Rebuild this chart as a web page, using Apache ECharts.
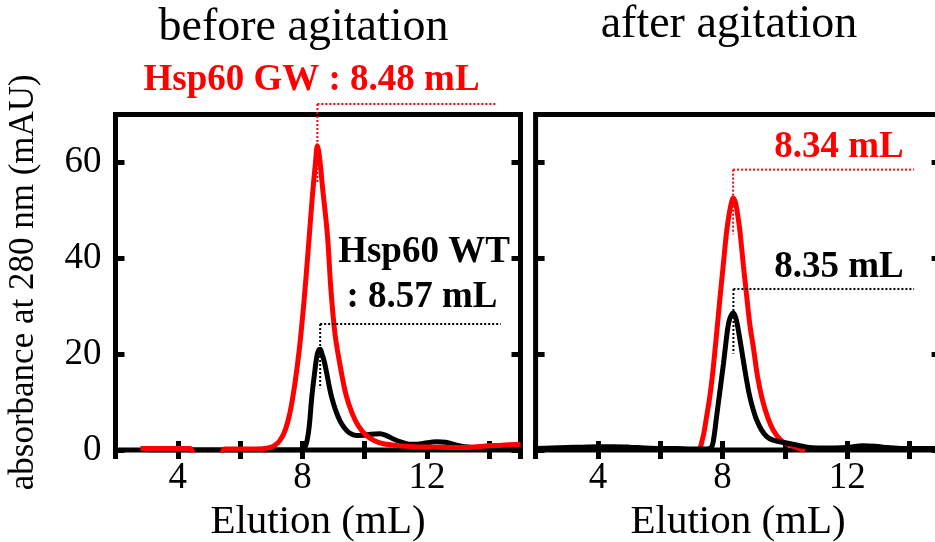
<!DOCTYPE html>
<html><head><meta charset="utf-8">
<script src="https://cdn.jsdelivr.net/npm/echarts@6/dist/echarts.min.js"></script>
<style>html,body{margin:0;padding:0;background:#fff}#c{width:935px;height:542px}</style>
</head><body><div id="c"></div>
<script>
// ---- data ----
const panelTitles = ['before agitation', 'after agitation'];
const xTickLabels = [4, 8, 12];
const yTickLabels = [0, 20, 40, 60];
const xAxisName = 'Elution (mL)';
const yAxisName = 'absorbance at 280 nm (mAU)';

// before agitation : Hsp60 GW (red)
const gwBeforeX = [2.8, 3.5, 4.4, 4.55, 5.0, 5.35, 5.5, 6.0, 6.5, 6.9, 7.1, 7.28, 7.45, 7.6, 7.75, 7.9, 8.05, 8.2, 8.32, 8.42, 8.48, 8.55, 8.65, 8.8, 8.92, 9.05, 9.2, 9.4, 9.6, 9.8, 10.06, 10.3, 10.6, 11.1, 11.6, 12.2, 12.8, 13.3, 13.8, 14.4, 15.0];
const gwBeforeY = [0.3, 0.3, 0.3, -1.5, -1.5, -1.5, 0.2, 0.2, 0.2, 0.4, 0.9, 2.0, 4.2, 7.8, 13.5, 21, 31, 43, 53, 60, 63.5, 61, 54.5, 45, 33, 24, 18, 11.5, 7.6, 5, 3, 2, 1.3, 0.9, 0.7, 0.6, 0.5, 0.5, 0.8, 1.0, 1.2];
// before agitation : Hsp60 WT (black)
const wtBeforeX = [3.0, 5.0, 7.0, 7.9, 8.07, 8.15, 8.22, 8.3, 8.38, 8.46, 8.52, 8.57, 8.63, 8.7, 8.78, 8.86, 8.94, 9.07, 9.21, 9.35, 9.5, 9.74, 9.96, 10.2, 10.49, 10.7, 10.92, 11.2, 11.45, 11.7, 11.9, 12.3, 12.6, 12.84, 13.1, 13.38, 13.8, 14.13, 15.0];
const wtBeforeY = [0, 0, 0, 0, 0.5, 2, 5, 11, 15.5, 19.4, 20.8, 21, 20, 18.5, 16, 13.3, 11, 8.2, 6, 4.6, 3.6, 3.0, 3.1, 3.3, 3.4, 3.0, 2.3, 1.6, 1.2, 1.2, 1.4, 1.7, 1.6, 1.2, 0.8, 0.6, 0.4, 0.3, 0.3];
// after agitation : Hsp60 GW (red)
const gwAfterX = [7.27, 7.4, 7.49, 7.6, 7.7, 7.82, 7.92, 8.03, 8.13, 8.22, 8.3, 8.34, 8.42, 8.5, 8.56, 8.67, 8.78, 8.88, 8.99, 9.12, 9.26, 9.45, 9.63, 9.85, 10.06, 10.35, 10.65];
const gwAfterY = [0, 3.5, 7, 11.5, 17, 25, 31.8, 39, 45.5, 49.5, 52, 52.6, 51.5, 48.5, 45.6, 38.5, 31.8, 26, 21.4, 15.5, 11, 6.8, 4.1, 2.2, 1.3, 0.6, -0.2];
// after agitation : Hsp60 WT (black)
const wtAfterX = [2.0, 2.5, 3.0, 3.5, 4.0, 4.5, 5.0, 5.5, 6.0, 6.5, 7.0, 7.5, 7.65, 7.72, 7.81, 7.92, 8.03, 8.12, 8.19, 8.27, 8.35, 8.43, 8.5, 8.56, 8.64, 8.72, 8.8, 8.88, 8.99, 9.1, 9.25, 9.42, 9.6, 9.85, 10.1, 10.49, 10.8, 11.2, 11.6, 12.0, 12.5, 12.9, 13.3, 13.8, 14.4, 15.0];
const wtAfterY = [0.3, 0.4, 0.5, 0.6, 0.7, 0.7, 0.6, 0.4, 0.3, 0.3, 0.2, 0.2, 0.6, 2.5, 7, 12.5, 18, 23, 26.3, 28, 28.6, 27.5, 25.3, 23, 19.8, 16.6, 13.6, 11, 8.3, 6.2, 4.2, 2.8, 2.1, 1.7, 1.4, 0.9, 0.5, 0.4, 0.4, 0.5, 0.9, 0.8, 0.5, 0.3, 0.3, 0.3];

// peak elution volumes (mL)
const peakBefore = [8.48, 8.57];  // GW, WT
const peakAfter = [8.34, 8.35];   // GW, WT
const annotationTexts = ['Hsp60 GW : 8.48 mL', 'Hsp60 WT', ': 8.57 mL', '8.34 mL', '8.35 mL'];

// ---- build ----
const pairs = (xs, ys) => xs.map((x, i) => [x, ys[i]]);
const RED = '#ff0000', BLACK = '#000000';
const FONT = '"Liberation Serif", "Times New Roman", serif';

const gridCommon = {top: 114.5, width: 405, height: 335.5, show: true, borderColor: '#000', borderWidth: 5,
  backgroundColor: 'transparent', containLabel: false, outerBoundsMode: 'none'};
const grids = [Object.assign({left: 115.5}, gridCommon), Object.assign({left: 535.6}, gridCommon)];

const tick = {show: true, inside: true, length: 9, lineStyle: {color: '#000', width: 5}};
function xAx(gi, pos, labels) {
  return {type: 'value', gridIndex: gi, position: pos, min: 2, max: 15, interval: 2,
    axisLine: {show: false}, axisTick: tick, splitLine: {show: false},
    axisLabel: {show: labels, margin: 10, color: '#000', fontSize: 37, fontFamily: FONT,
      formatter: v => xTickLabels.includes(v) ? String(v) : ''},
    name: labels ? xAxisName : '', nameLocation: 'middle', nameGap: 24,
    nameTextStyle: {color: '#000', fontSize: 41, fontFamily: FONT}};
}
function yAx(gi, pos, labels, named) {
  return {type: 'value', gridIndex: gi, position: pos, min: 0, max: 70, interval: 20,
    axisLine: {show: false}, axisTick: tick, splitLine: {show: false},
    axisLabel: {show: labels, margin: 14, color: '#000', fontSize: 37, fontFamily: FONT,
      formatter: v => yTickLabels.includes(v) ? String(v) : ''},
    name: named ? yAxisName : '', nameLocation: 'middle', nameGap: 74,
    nameTextStyle: {color: '#000', fontSize: 35, fontFamily: FONT}};
}
const xAxes = [xAx(0, 'bottom', true), xAx(0, 'top', false), xAx(1, 'bottom', true), xAx(1, 'top', false)];
const yAxes = [yAx(0, 'left', true, true), yAx(0, 'right', false, false), yAx(1, 'left', false, false), yAx(1, 'right', false, false)];

function curve(xi, yi, data, color, z) {
  return {type: 'line', xAxisIndex: xi, yAxisIndex: yi, data: data, showSymbol: false, symbol: 'none',
    smooth: 0.35, lineStyle: {color: color, width: 5}, itemStyle: {color: color}, z: z, clip: true, silent: true};
}
// dotted leader from a peak: [peakX, levelY, endX, bottomY]
function leader(xi, yi, peak, level, endX, bottom, color) {
  return {type: 'custom', xAxisIndex: xi, yAxisIndex: yi, clip: false, silent: true, z: 5,
    data: [[peak, level, endX, bottom]],
    renderItem: function (params, api) {
      const p = api.coord([api.value(0), api.value(1)]);
      const e = api.coord([api.value(2), api.value(1)]);
      const b = api.coord([api.value(0), api.value(3)]);
      const st = {stroke: color, lineWidth: 2, lineDash: [2, 2], fill: null};
      return {type: 'group', children: [
        {type: 'line', shape: {x1: p[0], y1: p[1], x2: e[0], y2: e[1]}, style: st},
        {type: 'line', shape: {x1: p[0], y1: p[1], x2: b[0], y2: b[1]}, style: st}
      ]};
    }};
}

const series = [
  curve(0, 0, pairs(wtBeforeX, wtBeforeY), BLACK, 2),
  curve(0, 0, pairs(gwBeforeX, gwBeforeY), RED, 3),
  curve(2, 2, pairs(gwAfterX, gwAfterY), RED, 2),
  curve(2, 2, pairs(wtAfterX, wtAfterY), BLACK, 3),
  leader(0, 0, peakBefore[0], 72.2, 14.23, 55.6, RED),
  leader(0, 0, peakBefore[1], 26.3, 14.37, 12.9, BLACK),
  leader(2, 2, peakAfter[0], 58.5, 14.15, 45.0, RED),
  leader(2, 2, peakAfter[1], 33.6, 14.15, 20.1, BLACK)
];

function txt(text, x, y, size, color, bold) {
  return {type: 'text', x: x, y: y, silent: true, z: 10,
    style: {text: text, fill: color, fontSize: size, fontFamily: FONT, fontWeight: bold ? 'bold' : 'normal', align: 'center', verticalAlign: 'middle'}};
}
const graphics = [
  txt(panelTitles[0], 303.5, 28, 46, BLACK, false),
  txt(panelTitles[1], 729, 25, 46, BLACK, false),
  txt(annotationTexts[0], 311.5, 80, 37, RED, true),
  txt(annotationTexts[1], 424, 252, 37, BLACK, true),
  txt(annotationTexts[2], 422, 297, 37, BLACK, true),
  txt(annotationTexts[3], 839, 147, 37, RED, true),
  txt(annotationTexts[4], 839, 267, 37, BLACK, true)
];

const chart = echarts.init(document.getElementById('c'), null, {renderer: 'canvas'});
chart.setOption({animation: false, backgroundColor: '#fff', grid: grids, xAxis: xAxes, yAxis: yAxes, series: series, graphic: graphics});
</script></body></html>
